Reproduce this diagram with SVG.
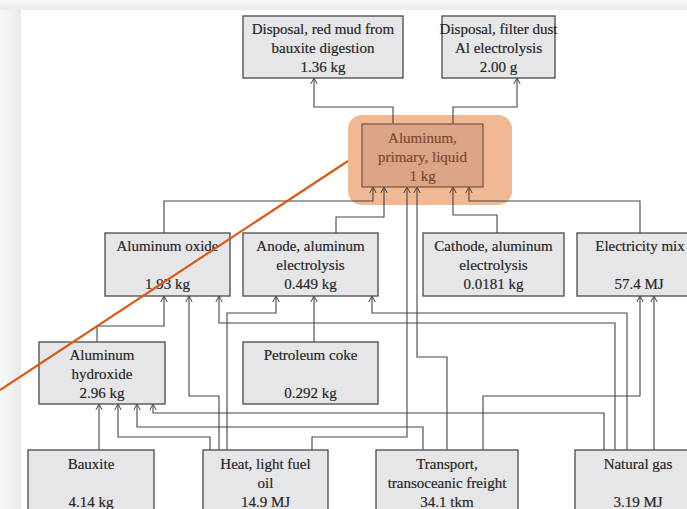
<svg xmlns="http://www.w3.org/2000/svg" width="687" height="509" viewBox="0 0 687 509">
<defs>
<linearGradient id="gl" x1="0" y1="0" x2="1" y2="0">
<stop offset="0" stop-color="#f8f8f8"/><stop offset="1" stop-color="#e9e9e9"/>
</linearGradient>
<linearGradient id="gt" x1="0" y1="0" x2="0" y2="1">
<stop offset="0" stop-color="#f8f8f8"/><stop offset="1" stop-color="#ebebeb"/>
</linearGradient>
<marker id="arr" markerUnits="userSpaceOnUse" markerWidth="12" markerHeight="12" viewBox="-8 -6 10 12" refX="0" refY="0" orient="auto">
<path d="M-6,-3.2 L0,0 L-6,3.2" fill="none" stroke="#444" stroke-width="1"/>
</marker>
<style>
.box{fill:#e6e6e8;stroke:#555;stroke-width:1.4}
.t{font-family:"Liberation Serif","DejaVu Serif",serif;font-size:15px;fill:#262626;text-anchor:middle;stroke:#262626;stroke-width:0.2}
.ta{font-family:"Liberation Serif","DejaVu Serif",serif;font-size:15px;fill:#7b4a32;text-anchor:middle;stroke:#7b4a32;stroke-width:0.2}
.c{fill:none;stroke:#444;stroke-width:1.1;marker-end:url(#arr)}
</style>
</defs>
<rect x="0" y="0" width="687" height="509" fill="#f6f6f6"/>
<rect x="0" y="0" width="21" height="509" fill="url(#gl)"/>
<rect x="0" y="0" width="687" height="10" fill="url(#gt)"/>
<rect x="21" y="10" width="666" height="499" fill="#ffffff"/>

<rect x="348" y="115" width="164" height="90" rx="14" fill="#f1b894"/>

<g id="connectors">
<path class="c" d="M393,124 V107 H314 V78"/>
<path class="c" d="M453,124 V107 H517 V78"/>
<path class="c" d="M164,233 V201 H373 V187"/>
<path class="c" d="M336,233 V217 H384 V187"/>
<path class="c" d="M312,450 V437 H407 V187"/>
<path class="c" d="M447,450 V357 H417 V187"/>
<path class="c" d="M497,233 V215 H453 V187"/>
<path class="c" d="M640,233 V201 H469 V187"/>
<path class="c" d="M97,342 V326 H164 V296"/>
<path class="c" d="M219,450 V396 H189 V296"/>
<path class="c" d="M615,450 V323 H219 V296"/>
<path class="c" d="M227,450 V313 H276 V296"/>
<path class="c" d="M314,342 V296"/>
<path class="c" d="M627,450 V313 H372 V296"/>
<path class="c" d="M483,450 V396 H640 V296"/>
<path class="c" d="M654,450 V296"/>
<path class="c" d="M99,450 V404"/>
<path class="c" d="M210,450 V437 H118 V404"/>
<path class="c" d="M423,450 V427 H137 V404"/>
<path class="c" d="M604,450 V413 H153 V404"/>
</g>

<g id="redmud">
<rect class="box" x="243" y="16" width="160" height="62"/>
<text class="t" x="323" y="34">Disposal, red mud from</text>
<text class="t" x="323" y="53">bauxite digestion</text>
<text class="t" x="323" y="72">1.36 kg</text>
</g>
<g id="filterdust">
<rect class="box" x="442" y="16" width="113" height="62"/>
<text class="t" x="498.5" y="34">Disposal, filter dust</text>
<text class="t" x="498.5" y="53">Al electrolysis</text>
<text class="t" x="498.5" y="72">2.00 g</text>
</g>
<g id="aluminum">
<rect x="362" y="124" width="121" height="63" fill="#dba487" stroke="#8c5d45" stroke-width="1.4"/>
<text class="ta" x="422.5" y="143">Aluminum,</text>
<text class="ta" x="422.5" y="162">primary, liquid</text>
<text class="ta" x="422.5" y="181">1 kg</text>
</g>
<g id="oxide">
<rect class="box" x="105" y="233" width="125" height="63"/>
<text class="t" x="167.5" y="251">Aluminum oxide</text>
<text class="t" x="167.5" y="289">1.93 kg</text>
</g>
<g id="anode">
<rect class="box" x="243" y="233" width="135" height="63"/>
<text class="t" x="310.5" y="251">Anode, aluminum</text>
<text class="t" x="310.5" y="270">electrolysis</text>
<text class="t" x="310.5" y="289">0.449 kg</text>
</g>
<g id="cathode">
<rect class="box" x="423" y="233" width="141" height="63"/>
<text class="t" x="493.5" y="251">Cathode, aluminum</text>
<text class="t" x="493.5" y="270">electrolysis</text>
<text class="t" x="493.5" y="289">0.0181 kg</text>
</g>
<g id="electricity">
<rect class="box" x="577" y="233" width="126" height="63"/>
<text class="t" x="640" y="251">Electricity mix</text>
<text class="t" x="639" y="289">57.4 MJ</text>
</g>
<g id="hydroxide">
<rect class="box" x="39" y="342" width="126" height="62"/>
<text class="t" x="102" y="360">Aluminum</text>
<text class="t" x="102" y="379">hydroxide</text>
<text class="t" x="102" y="398">2.96 kg</text>
</g>
<g id="petcoke">
<rect class="box" x="243" y="342" width="135" height="62"/>
<text class="t" x="310.5" y="360">Petroleum coke</text>
<text class="t" x="310.5" y="398">0.292 kg</text>
</g>
<g id="bauxite">
<rect class="box" x="28" y="450" width="126" height="70"/>
<text class="t" x="91" y="469">Bauxite</text>
<text class="t" x="91" y="507">4.14 kg</text>
</g>
<g id="heat">
<rect class="box" x="203" y="450" width="125" height="70"/>
<text class="t" x="265.5" y="469">Heat, light fuel</text>
<text class="t" x="265.5" y="488">oil</text>
<text class="t" x="265.5" y="507">14.9 MJ</text>
</g>
<g id="transport">
<rect class="box" x="376" y="450" width="142" height="70"/>
<text class="t" x="447" y="469">Transport,</text>
<text class="t" x="447" y="488">transoceanic freight</text>
<text class="t" x="447" y="507">34.1 tkm</text>
</g>
<g id="naturalgas">
<rect class="box" x="575" y="450" width="126" height="70"/>
<text class="t" x="638" y="469">Natural gas</text>
<text class="t" x="638" y="507">3.19 MJ</text>
</g>

<line x1="348" y1="161" x2="0" y2="390" stroke="#d95a17" stroke-width="2.2"/>
</svg>
